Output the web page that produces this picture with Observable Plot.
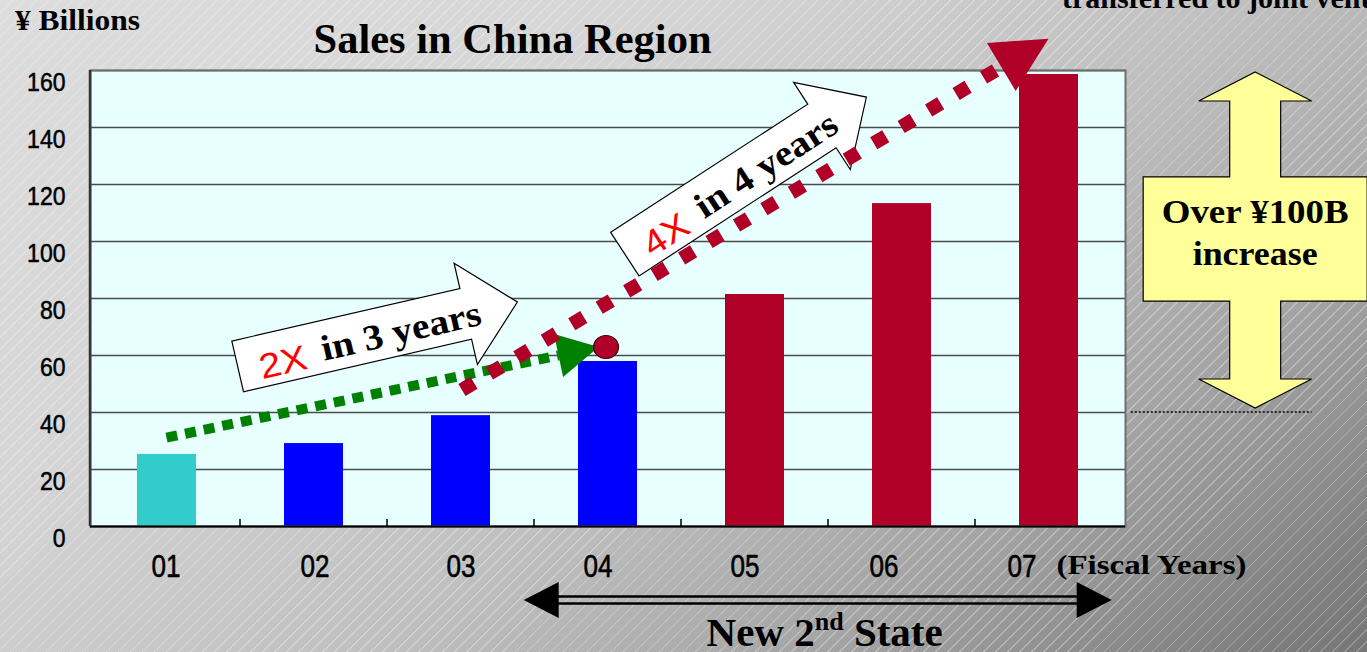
<!DOCTYPE html>
<html><head><meta charset="utf-8">
<script src="https://cdn.jsdelivr.net/npm/d3@7"></script>
<script src="https://cdn.jsdelivr.net/npm/@observablehq/plot@0.6"></script>
<style>
html,body{margin:0;padding:0;}
body{width:1367px;height:652px;overflow:hidden;
background:
 repeating-linear-gradient(135deg, rgba(255,255,255,0.30) 0px, rgba(255,255,255,0.30) 1px, rgba(255,255,255,0) 1.2px, rgba(255,255,255,0) 8.5px),
 linear-gradient(144deg, #dddddd 0%, #d5d5d5 30%, #bfbfbf 56%, #a4a4a4 76%, #808080 94%, #767676 100%);}
#chart{position:relative;width:1367px;height:652px;}
#chart svg{display:block;}
</style></head><body><div id="chart"></div>
<script>
// ---- data ----
const years = ["01","02","03","04","05","06","07"];
const sales = [25.3, 29.1, 38.9, 57.9, 81.4, 113.3, 158.6];
const phases = ["FY01","Growth","Growth","Growth","New 2nd State","New 2nd State","New 2nd State"];
const phaseNames = ["FY01","Growth","New 2nd State"];
const yTicks = [0,20,40,60,80,100,120,140,160];
const titleText = "Sales in China Region";
const unitText = "¥ Billions";
const xUnitText = "(Fiscal Years)";
const growth1 = {from:[0, 31], to:[2.94, 62.8], big:"2X", small:"in 3 years", tail:[0.484, 56.0], tip:[2.387, 78.6]};
const growth2 = {from:[2.01, 47.7], to:[6.0, 171], big:"4X", small:"in 4 years", tail:[3.118, 95.4], tip:[4.761, 150.5]};
const marker04 = [2.99, 62.8];
const increase = {x:7.406, low:41.4, high:159.3, boxLow:78.9, boxHigh:122.5, lines:["Over ¥100B","increase"], ref:40};
const period = {from:2.43, to:6.43, label:"New 2", sup:"nd", rest:" State"};
// layout nudges of the year labels (the original's labels drift left)
const xLabelNudge = [-1, 1, 0, -10, -10, -18, -27];

const data = years.map((y,i)=>({year:y, value:sales[i], phase:phases[i]}));
const SERIF = "'Liberation Serif','Times New Roman',serif";
const SANS = "'Liberation Sans',Arial,sans-serif";

const chart = Plot.plot({
  width:1367, height:652,
  marginLeft:90, marginRight:242, marginTop:70, marginBottom:126,
  style:{background:"transparent", fontFamily:SANS, overflow:"visible", color:"#000"},
  x:{domain:years, paddingInner:0.6, paddingOuter:0.3, label:null},
  y:{domain:[0,160], label:null},
  color:{domain:phaseNames, range:["#33CCCC","#0000FF","#B00028"]},
  marks:[
    Plot.frame({fill:"#E8FFFF", stroke:"none"}),
    Plot.ruleY(yTicks, {stroke:"#4a4a4a", strokeWidth:1.5}),
    Plot.barY(data, {x:"year", y:"value", fill:"phase"}),
    Plot.frame({stroke:"#6e6e6e", strokeWidth:2}),
    Plot.ruleY([0], {stroke:"#000", strokeWidth:2}),
    Plot.axisY({ticks:yTicks, tickSize:0, tickPadding:25, dy:12, fill:"#000"}),
    Plot.axisX({tickSize:0, tickPadding:28, fill:"#000"})
  ]
});
document.getElementById("chart").appendChild(chart);

const svg = d3.select(chart);
svg.selectAll('g[aria-label="y-axis tick label"]').attr("font-size", 25).style("font-size","25px")
  .attr("stroke","#000").attr("stroke-width",0.5)
  .selectAll("text").attr("textLength", function(){ return this.textContent.length*12.8; }).attr("lengthAdjust","spacingAndGlyphs");
svg.selectAll('g[aria-label="x-axis tick label"]').attr("font-size", 31).style("font-size","31px")
  .attr("stroke","#000").attr("stroke-width",0.6)
  .selectAll("text").attr("dx", (d,i)=>xLabelNudge[i])
  .attr("textLength", function(){ return this.textContent.length*14.5; }).attr("lengthAdjust","spacingAndGlyphs");

// ---- annotations, positioned through the plot's scales ----
const xs = chart.scale("x"), ys = chart.scale("y");
const bw = xs.bandwidth, step = xs.step;
const X = i => xs.apply(years[0]) + bw/2 + i*step;
const Y = v => ys.apply(v);
const [xL, xR] = xs.range;
const [yB, yT] = ys.range;
const g = svg.append("g").attr("text-anchor","start");

// left axis line and inner ticks between categories
g.append("line").attr("x1",xL).attr("x2",xL).attr("y1",yT).attr("y2",yB).attr("stroke","#333").attr("stroke-width",2.5);
for (let k=1;k<years.length;k++){
  const bx = X(k-0.5);
  g.append("line").attr("x1",bx).attr("x2",bx).attr("y1",yB).attr("y2",yB-7).attr("stroke","#000").attr("stroke-width",1.5);
}

// block arrows
function blockArrow(a){
  const ax=X(a.tail[0]), ay=Y(a.tail[1]), tx=X(a.tip[0]), ty=Y(a.tip[1]);
  const L=Math.hypot(tx-ax,ty-ay), ang=Math.atan2(ty-ay,tx-ax)*180/Math.PI;
  const sl=L-53, sw=26, hw=52;
  const gg=g.append("g").attr("transform",`translate(${ax},${ay}) rotate(${ang})`);
  gg.append("path").attr("d",`M0,${-sw}L${sl},${-sw}L${sl},${-hw}L${L},0L${sl},${hw}L${sl},${sw}L0,${sw}Z`)
    .attr("fill","#fff").attr("stroke","#000").attr("stroke-width",1.2);
  gg.append("text").attr("x",45).attr("y",18).attr("text-anchor","middle").attr("font-family",SANS)
    .attr("font-size",35).attr("fill","#FF0000").attr("textLength",48).attr("lengthAdjust","spacingAndGlyphs").text(a.big);
  gg.append("text").attr("x",167).attr("y",14).attr("text-anchor","middle").attr("font-family",SERIF).attr("font-weight","bold")
    .attr("font-size",36).attr("fill","#000").attr("textLength",163).attr("lengthAdjust","spacingAndGlyphs").text(a.small);
}
blockArrow(growth1);
blockArrow(growth2);

function dottedArrow(from,to,color,width,dash,headLen,headHW){
  const ax=X(from[0]), ay=Y(from[1]), tx=X(to[0]), ty=Y(to[1]);
  const a=Math.atan2(ty-ay,tx-ax), c=Math.cos(a), s=Math.sin(a);
  const bx=tx-headLen*c, by=ty-headLen*s;
  g.append("line").attr("x1",ax).attr("y1",ay).attr("x2",bx).attr("y2",by)
    .attr("stroke",color).attr("stroke-width",width).attr("stroke-dasharray",dash);
  g.append("path").attr("d",`M${tx},${ty}L${bx-s*headHW},${by+c*headHW}L${bx+s*headHW},${by-c*headHW}Z`).attr("fill",color);
}
dottedArrow(growth1.from, growth1.to, "#008000", 10, "11 8", 41, 22);
dottedArrow(growth2.from, growth2.to, "#B00028", 14, "14 18", 55, 28);
g.append("ellipse").attr("cx",X(marker04[0])).attr("cy",Y(marker04[1])).attr("rx",12.5).attr("ry",11.5)
  .attr("fill","#B00028").attr("stroke","#3a0010").attr("stroke-width",1.2);

// yellow double arrow
{
  const cx=X(increase.x), t=Y(increase.high), b=Y(increase.low), bt=Y(increase.boxHigh), bb=Y(increase.boxLow);
  const hl=29, hw=56.5, sw=25.5, bxw=112;
  const d=`M${cx},${t}L${cx+hw},${t+hl}L${cx+sw},${t+hl}L${cx+sw},${bt}L${cx+bxw},${bt}L${cx+bxw},${bb}L${cx+sw},${bb}L${cx+sw},${b-hl}L${cx+hw},${b-hl}L${cx},${b}L${cx-hw},${b-hl}L${cx-sw},${b-hl}L${cx-sw},${bb}L${cx-bxw},${bb}L${cx-bxw},${bt}L${cx-sw},${bt}L${cx-sw},${t+hl}L${cx-hw},${t+hl}Z`;
  g.append("path").attr("d",d).attr("fill","#FFFF99").attr("stroke","#000").attr("stroke-width",1.2);
  const mid=(bt+bb)/2;
  g.append("text").attr("x",cx).attr("y",mid-16).attr("text-anchor","middle").attr("font-family",SERIF).attr("font-weight","bold")
    .attr("font-size",34).attr("textLength",187).attr("lengthAdjust","spacingAndGlyphs").text(increase.lines[0]);
  g.append("text").attr("x",cx).attr("y",mid+26).attr("text-anchor","middle").attr("font-family",SERIF).attr("font-weight","bold")
    .attr("font-size",34).attr("textLength",125).attr("lengthAdjust","spacingAndGlyphs").text(increase.lines[1]);
  const ry=Y(increase.ref);
  g.append("line").attr("x1",X(6.56)).attr("x2",X(7.79)).attr("y1",ry).attr("y2",ry)
    .attr("stroke","#000").attr("stroke-width",1.5).attr("stroke-dasharray","2 2");
}

// bottom period double arrow
{
  const l=X(period.from), r=X(period.to), y=yB+74, hl=35, hh=18;
  g.append("line").attr("x1",l+hl-2).attr("x2",r-hl+2).attr("y1",y-3.5).attr("y2",y-3.5).attr("stroke","#000").attr("stroke-width",2.5);
  g.append("line").attr("x1",l+hl-2).attr("x2",r-hl+2).attr("y1",y+3.5).attr("y2",y+3.5).attr("stroke","#000").attr("stroke-width",2.5);
  g.append("path").attr("d",`M${l},${y}L${l+hl},${y-hh}L${l+hl},${y+hh}Z`).attr("fill","#000");
  g.append("path").attr("d",`M${r},${y}L${r-hl},${y-hh}L${r-hl},${y+hh}Z`).attr("fill","#000");
  const t=g.append("text").attr("x",X(4.477)).attr("y",yB+120).attr("text-anchor","middle").attr("font-family",SERIF)
    .attr("font-weight","bold").attr("font-size",41).attr("fill","#000");
  t.append("tspan").text(period.label);
  t.append("tspan").attr("font-size",26).attr("dy",-16).text(period.sup);
  t.append("tspan").attr("dy",16).text(period.rest);
}

// texts
g.append("text").attr("x",X(2.354)).attr("y",yT-17).attr("text-anchor","middle").attr("font-family",SERIF)
  .attr("font-weight","bold").attr("font-size",42).attr("textLength",398).attr("lengthAdjust","spacingAndGlyphs").text(titleText);
g.append("text").attr("x",15).attr("y",yT-40).attr("text-anchor","start").attr("font-family",SERIF).attr("font-weight","bold")
  .attr("font-size",29).attr("textLength",125).attr("lengthAdjust","spacingAndGlyphs").text(unitText);
g.append("text").attr("x",X(6)+8).attr("y",yB+48).attr("text-anchor","start").attr("font-family",SERIF).attr("font-weight","bold")
  .attr("font-size",28).attr("textLength",190).attr("lengthAdjust","spacingAndGlyphs").text(xUnitText);
g.append("text").attr("x",1062).attr("y",8).attr("text-anchor","start").attr("font-family",SERIF).attr("font-weight","bold")
  .attr("font-size",30).text("transferred to joint venture");
</script></body></html>
